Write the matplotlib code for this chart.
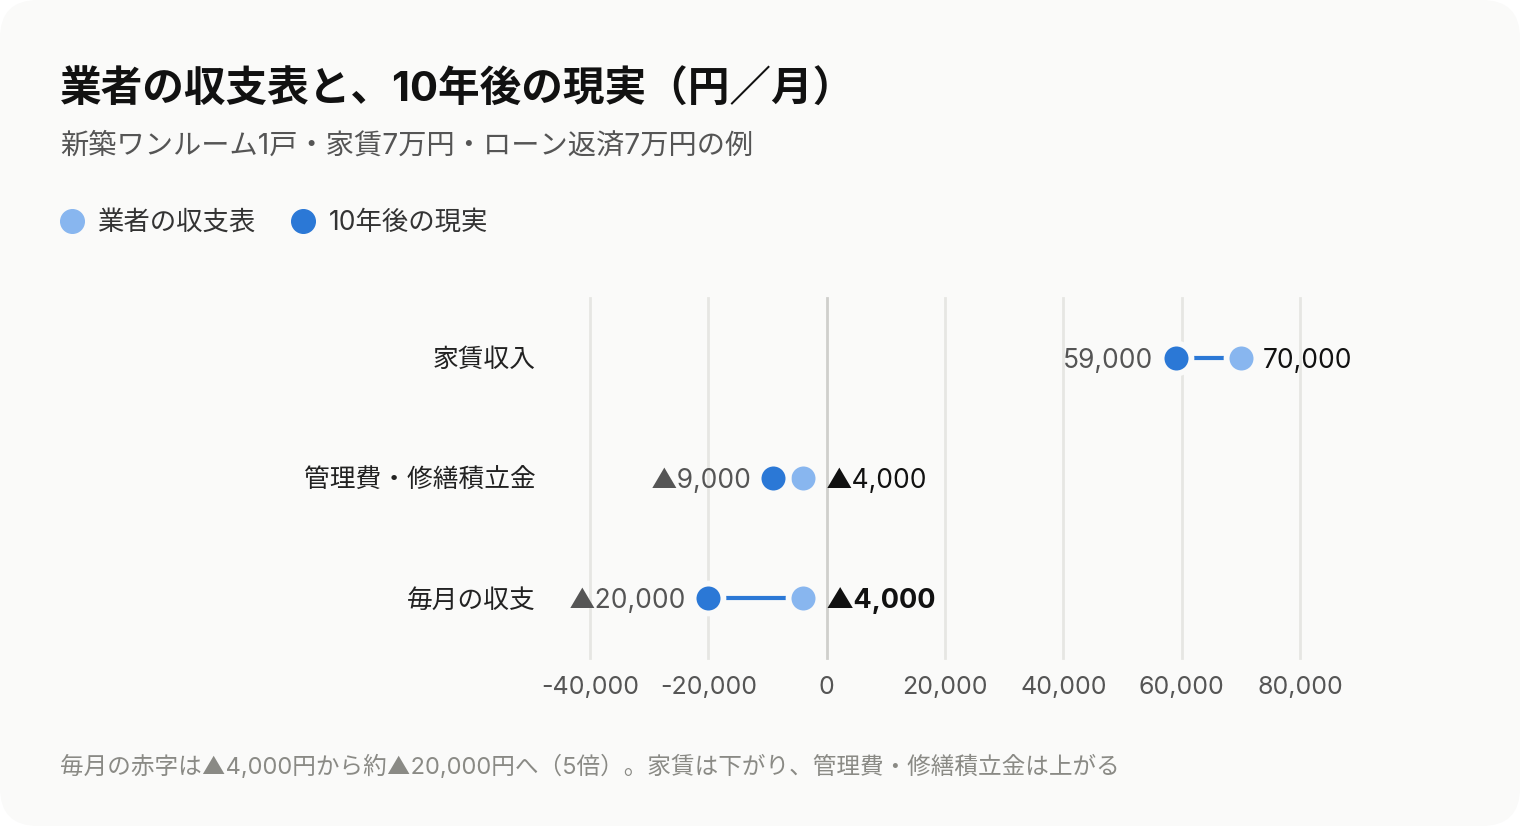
import matplotlib
matplotlib.use("Agg")
import matplotlib.pyplot as plt
from matplotlib.lines import Line2D
from matplotlib.patches import FancyBboxPatch

# Latin digits from Inter, Japanese from Noto CJK
plt.rcParams['font.family'] = ['Inter', 'Noto Sans CJK JP', 'DejaVu Sans']

# data
categories = ["家賃収入", "管理費・修繕積立金", "毎月の収支"]
plan_values = [70000, -4000, -4000]        # 業者の収支表
real_values = [59000, -9000, -20000]       # 10年後の現実
x_ticks = [-40000, -20000, 0, 20000, 40000, 60000, 80000]
series_names = ["業者の収支表", "10年後の現実"]

title = "業者の収支表と、10年後の現実（円／月）"
subtitle = "新築ワンルーム1戸・家賃7万円・ローン返済7万円の例"
footer = "毎月の赤字は▲4,000円から約▲20,000円へ（5倍）。家賃は下がり、管理費・修繕積立金は上がる"

LIGHT = "#88b6ef"
DARK = "#2b78d6"
BG = "#fafaf9"
W, H = 1520, 826


def fmt(v):
    s = "{:,}".format(abs(v))
    return ("▲" + s) if v < 0 else s


fig = plt.figure(figsize=(W / 100, H / 100), dpi=100)
fig.patch.set_facecolor("white")
card = FancyBboxPatch((0, 0), 1, 1, boxstyle="round,pad=0,rounding_size=0.025",
                      transform=fig.transFigure, facecolor=BG, edgecolor="none",
                      mutation_aspect=W / H, zorder=-10)
fig.patches.append(card)

ax = fig.add_axes([590 / W, 168 / H, 710 / W, 360 / H])
ax.set_facecolor("none")
ax.set_xlim(-40000, 80000)
ax.set_ylim(len(categories) - 0.5, -0.5)
for s in ax.spines.values():
    s.set_visible(False)

for t in x_ticks:
    if t == 0:
        ax.axvline(t, color="#cfcfcc", lw=2, zorder=1, clip_on=False)
    else:
        ax.axvline(t, color="#e6e6e3", lw=2, zorder=0, clip_on=False)

ax.set_xticks(x_ticks)
ax.set_xticklabels(["{:,}".format(t) for t in x_ticks])
ax.tick_params(axis="x", length=0, pad=13, labelsize=18, labelcolor="#555555")
ax.set_yticks(range(len(categories)))
ax.set_yticklabels(categories)
ax.tick_params(axis="y", length=0, pad=39, labelsize=18.5, labelcolor="#222222")

for i, (p, r) in enumerate(zip(plan_values, real_values)):
    ax.plot([r, p], [i, i], color=DARK, lw=3, zorder=2, solid_capstyle="butt")
    ax.plot(p, i, "o", ms=21.5, color=LIGHT, mec=BG, mew=4.2, zorder=3, clip_on=False)
    ax.plot(r, i, "o", ms=21.5, color=DARK, mec=BG, mew=4.2, zorder=3, clip_on=False)
    lo, hi = min(p, r), max(p, r)
    # real value on the left side, plan value on the right side
    ax.annotate(fmt(r), (lo, i), xytext=(-16, -2), textcoords="offset points",
                ha="right", va="center", fontsize=19, color="#555555")
    bold = i == len(categories) - 1
    ax.annotate(fmt(p), (hi, i), xytext=(16, -2), textcoords="offset points",
                ha="left", va="center", fontsize=19.5 if bold else 19,
                color="#111111", fontweight="bold" if bold else "normal")

fig.text(60 / W, 1 - 90 / H, title, fontsize=30, fontweight="bold",
         color="#111111", ha="left", va="center")
fig.text(60 / W, 1 - 146 / H, subtitle, fontsize=20.3, color="#555555",
         ha="left", va="center")
fig.text(60 / W, 1 - 767 / H, footer, fontsize=17, color="#8a8a85",
         ha="left", va="center")

handles = [Line2D([], [], ls="none", marker="o", ms=17, color=LIGHT),
           Line2D([], [], ls="none", marker="o", ms=17, color=DARK)]
fig.legend(handles, series_names, loc="center left",
           bbox_to_anchor=(59 / W, 1 - 223 / H), ncol=2, frameon=False,
           fontsize=19, handlelength=1.0, handletextpad=0.46,
           columnspacing=1.3, borderpad=0, borderaxespad=0,
           labelcolor="#333333")

fig.savefig("out.png", dpi=100, facecolor=fig.get_facecolor())
